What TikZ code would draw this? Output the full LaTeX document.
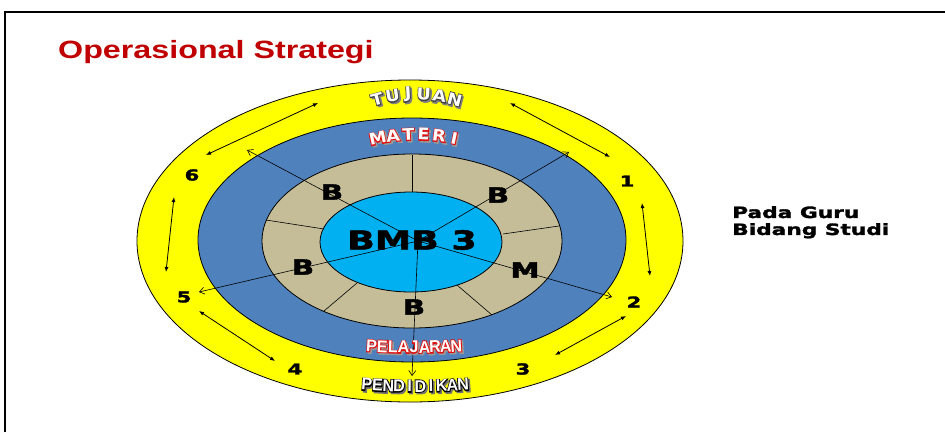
\documentclass[tikz,border=0pt]{standalone}
\usepackage{fontspec}
\usepackage{graphicx}
\usetikzlibrary{arrows.meta}
\setmainfont{Liberation Sans}
\newfontfamily\titlef{Liberation Sans}[FakeStretch=1.29]
\newfontfamily\heavy{DejaVu Sans}[FakeStretch=1.4, FakeBold=2]
\newfontfamily\arcf{DejaVu Sans}[FakeStretch=1.1]
\newfontfamily\arcfo{DejaVu Sans}[FakeStretch=1.1, FakeBold=10]
\newfontfamily\arcn{Liberation Sans}[FakeStretch=0.95]
\newfontfamily\arcno{Liberation Sans}[FakeStretch=0.95, FakeBold=10]
\definecolor{ylw}{HTML}{FFFF00}
\definecolor{blu}{HTML}{4F81BD}
\definecolor{tanring}{HTML}{C4BD97}
\definecolor{cyn}{HTML}{00B0F0}
\definecolor{ttl}{HTML}{C00000}
\definecolor{wred}{HTML}{E01010}
% outlined text: #1 shadow colour, #2 outline colour, #3 fill colour, #4 outline font, #5 text
\newcommand\outlinetext[5]{%
  \makebox[0pt][l]{#4\color{#1}\kern1.6pt\raisebox{-1.6pt}{#5}}%
  \makebox[0pt][l]{#4\color{#2}#5}%
  \textcolor{#3}{#5}}
\newcommand\wtuj[1]{\outlinetext{black!50}{black!75}{white}{\arcfo\bfseries}{#1}}
\newcommand\wmat[1]{\outlinetext{black!40}{wred}{white}{\arcfo\bfseries}{#1}}
\newcommand\wpel[1]{\outlinetext{black!40}{wred}{white}{\arcno\bfseries}{#1}}
\newcommand\wpen[1]{\outlinetext{black!55}{black}{white}{\arcno\bfseries}{#1}}
% letters on an arc: #1 cx, #2 cy, #3 R, #4 spacing, #5 n, #6 style, #7 wrapper, #8 letters, #9 name prefix
\newcommand\arcword[9]{%
  \foreach \L [count=\i] in {#8}{%
    \pgfmathsetmacro\ph{(\i-(#5+1)/2)*(#4)/(#3)*57.29578}%
    \node[#6, rotate=-\ph] (#9\i) at ({#1+(#3)*sin(\ph)},{#2+(#3)*(1-cos(\ph))}) {#7{\L}};
  }}
\tikzset{
  ring/.style={draw=black, line width=0.8pt},
  divider/.style={draw=black, line width=0.6pt},
  radial/.style={draw=black, line width=0.6pt, -{Straight Barb[length=5pt,width=7pt]}},
  dbl/.style={draw=black, line width=0.8pt, {Latex[length=5pt,width=4pt]}-{Latex[length=5pt,width=4pt]}},
  seg/.style={inner sep=0, font={\heavy\bfseries\fontsize{21}{21}\selectfont}},
  num/.style={inner sep=0, font={\heavy\bfseries\fontsize{15}{15}\selectfont}},
  toparc/.style={inner sep=0, font={\arcf\bfseries\fontsize{16}{16}\selectfont}},
  botarc/.style={inner sep=0, font={\arcn\bfseries\fontsize{17}{17}\selectfont}},
}
\begin{document}
\begin{tikzpicture}[x=1pt,y=-1pt]
\useasboundingbox (0,0) rectangle (945,432);
\fill[white] (0,0) rectangle (945,432);
% frame
\draw[line width=2.2pt] (5,432) -- (5,12) -- (945,12);
% title
\node[anchor=base west, inner sep=0, text=ttl, font={\titlef\bfseries\fontsize{25}{25}\selectfont}] (title) at (58,58) {Operasional Strategi};
% rings
\path[ring, fill=ylw] (410,241) ellipse [x radius=273, y radius=161];
\path[ring, fill=blu] (412,240) ellipse [x radius=214, y radius=122];
\path[ring, fill=tanring] (412,241) ellipse [x radius=150, y radius=87];
\path[ring, fill=cyn] (411,242) ellipse [x radius=91, y radius=50];
% dividers in the tan ring
\coordinate (d1a) at (412,155); \coordinate (d1b) at (412,192);
\coordinate (d2a) at (503,234); \coordinate (d2b) at (559,226);
\coordinate (d3a) at (324,229); \coordinate (d3b) at (266,220);
\coordinate (d4a) at (357,283); \coordinate (d4b) at (324,311);
\coordinate (d5a) at (457,285); \coordinate (d5b) at (492,315);
\draw[divider] (d1a) -- (d1b);
\draw[divider] (d2a) -- (d2b);
\draw[divider] (d3a) -- (d3b);
\draw[divider] (d4a) -- (d4b);
\draw[divider] (d5a) -- (d5b);
% radial arrows
\coordinate (c0) at (418,241);
\coordinate (ul) at (247,150);
\coordinate (ur) at (569,152);
\coordinate (rr) at (612,297);
\coordinate (bb) at (412,376);
\coordinate (ll) at (199,292);
\draw[radial] (c0) -- (ul);
\draw[radial] (c0) -- (ur);
\draw[radial] (c0) -- (rr);
\draw[radial] (c0) -- (bb);
\draw[radial] (c0) -- (ll);
% double arrows in the yellow ring
\coordinate (a1) at (206,155); \coordinate (a2) at (318,103);
\coordinate (b1) at (510,103); \coordinate (b2) at (610,157);
\coordinate (e1) at (642,203); \coordinate (e2) at (650,276);
\coordinate (f1) at (626,316); \coordinate (f2) at (555,355);
\coordinate (g1) at (199,311); \coordinate (g2) at (275,361);
\coordinate (h1) at (174,197); \coordinate (h2) at (166,272);
\draw[dbl] (a1) -- (a2);
\draw[dbl] (b1) -- (b2);
\draw[dbl] (e1) -- (e2);
\draw[dbl] (f1) -- (f2);
\draw[dbl] (g1) -- (g2);
\draw[dbl] (h1) -- (h2);
% numbers
\node[num] (n1) at (627,181) {1};
\node[num] (n2) at (634,302) {2};
\node[num] (n3) at (523,369) {3};
\node[num] (n4) at (295,369) {4};
\node[num] (n5) at (184,297) {5};
\node[num] (n6) at (192,175) {6};
% segment letters
\node[seg] (s1) at (332,192) {B};
\node[seg] (s2) at (498,195) {B};
\node[seg] (s3) at (303,267) {B};
\node[seg] (s4) at (525,270) {M};
\node[seg] (s5) at (414,307) {B};
\node[inner sep=0, font={\heavy\bfseries\fontsize{26}{26}\selectfont}] (core) at (412,240) {BMB 3};
% curved words
\arcword{416}{95}{150}{15.6}{6}{toparc}{\wtuj}{T,U,J,U,A,N}{tj}
\arcword{416}{135}{185}{15.4}{6}{toparc}{\wmat}{M,A,T,E,R,I}{mt}
\arcword{414}{348}{-700}{10.6}{9}{botarc}{\wpel}{P,E,L,A,J,A,R,A,N}{pl}
\arcword{415}{387}{-700}{10.7}{10}{botarc}{\wpen}{P,E,N,D,I,D,I,K,A,N}{pd}
% side text
\node[anchor=north west, inner sep=0, align=left, font={\heavy\bfseries\fontsize{15.5}{17}\selectfont}] (side) at (732,206) {Pada Guru\\Bidang Studi};
\end{tikzpicture}
\end{document}
